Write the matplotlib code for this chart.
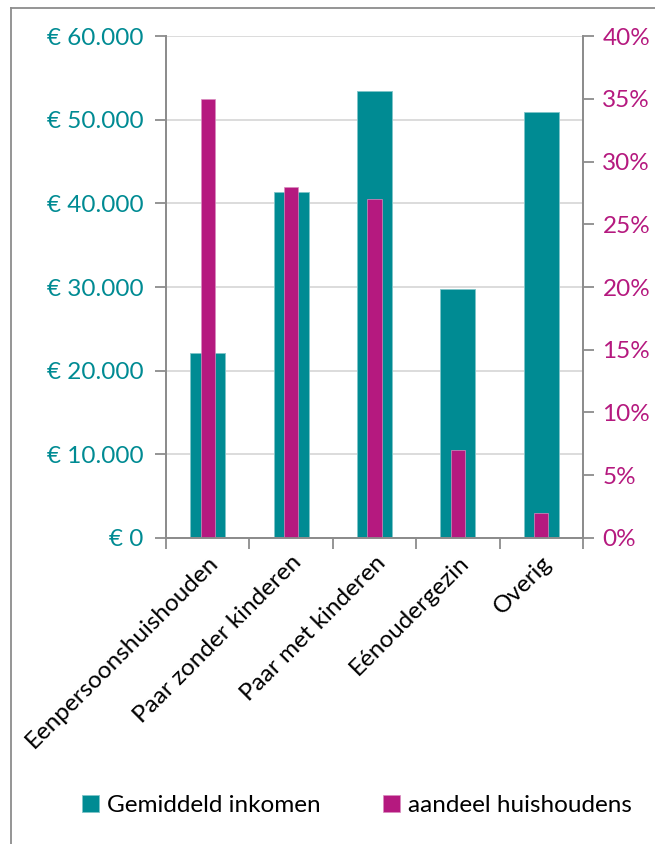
import matplotlib
matplotlib.use("Agg")
import numpy as np
import matplotlib.pyplot as plt
from matplotlib.lines import Line2D
from matplotlib.ticker import FuncFormatter

plt.rcParams["font.family"] = ["Lato", "DejaVu Sans"]

categories = ["Eenpersoonshuishouden", "Paar zonder kinderen", "Paar met kinderen",
              "Eénoudergezin", "Overig"]
inkomen = [22100, 41400, 53400, 29800, 50900]
aandeel = [35, 28, 27, 7, 2]

teal = "#008B93"
magenta = "#B5197F"
grid_c = "#D9D9D9"
spine_c = "#8C8C8C"
fs = 17.5

fig = plt.figure(figsize=(6.55, 8.44), dpi=100)
ax = fig.add_axes([0.2534, 0.3626, 0.6366, 0.5947])
ax2 = ax.twinx()

x = np.arange(len(categories))
ax.bar(x, inkomen, width=0.42, color=teal, edgecolor="#7FC5C9", linewidth=0.6, zorder=2,
       label="Gemiddeld inkomen")
ax2.bar(x, aandeel, width=0.17, color=magenta, edgecolor="#D98CBF", linewidth=0.5, zorder=2,
        label="aandeel huishoudens")

ax.set_xlim(-0.5, len(categories) - 0.5)
ax.set_ylim(0, 60000)
ax2.set_ylim(0, 40)
ax.set_yticks(range(0, 60001, 10000))
ax2.set_yticks(range(0, 41, 5))
ax.yaxis.set_major_formatter(FuncFormatter(lambda v, p: "€ 0" if v == 0 else "€ " + f"{int(v):,}".replace(",", ".")))
ax2.yaxis.set_major_formatter(FuncFormatter(lambda v, p: f"{int(v)}%"))

ax.yaxis.grid(True, color=grid_c, linewidth=1.3, zorder=0)
ax.set_axisbelow(True)

for a in (ax, ax2):
    for s in a.spines.values():
        s.set_color(spine_c)
        s.set_linewidth(1.3)
    a.spines["top"].set_visible(False)

ax.tick_params(axis="y", colors=spine_c, labelcolor=teal, labelsize=fs, length=8, width=1.3, pad=8)
ax2.tick_params(axis="y", colors=spine_c, labelcolor=magenta, labelsize=fs, length=8, width=1.3, pad=6)

# category boundary ticks on x axis
ax.set_xticks(np.arange(-0.5, len(categories), 1.0))
ax.set_xticklabels([])
ax.tick_params(axis="x", colors=spine_c, length=8, width=1.3)
ax.set_xticks(x, minor=True)
ax.set_xticklabels(categories, minor=True, rotation=45, ha="right", rotation_mode="anchor",
                   fontsize=fs, color="#000000")
ax.tick_params(axis="x", which="minor", length=0, pad=10)

h1, l1 = ax.get_legend_handles_labels()
h2, l2 = ax2.get_legend_handles_labels()
fig.legend(h1 + h2, l1 + l2, loc="center", bbox_to_anchor=(0.545, 0.046), ncol=2,
           frameon=False, fontsize=fs, handlelength=0.7, handleheight=0.7,
           handletextpad=0.3, columnspacing=2.6)

# chart border (left and top edges visible)
bx, by = 10.5 / 655, 1 - 7.5 / 844
fig.add_artist(Line2D([bx, bx], [0, by], transform=fig.transFigure, color=spine_c, linewidth=1.3))
fig.add_artist(Line2D([bx, 1], [by, by], transform=fig.transFigure, color=spine_c, linewidth=1.3))

fig.savefig("out.png", dpi=100)
